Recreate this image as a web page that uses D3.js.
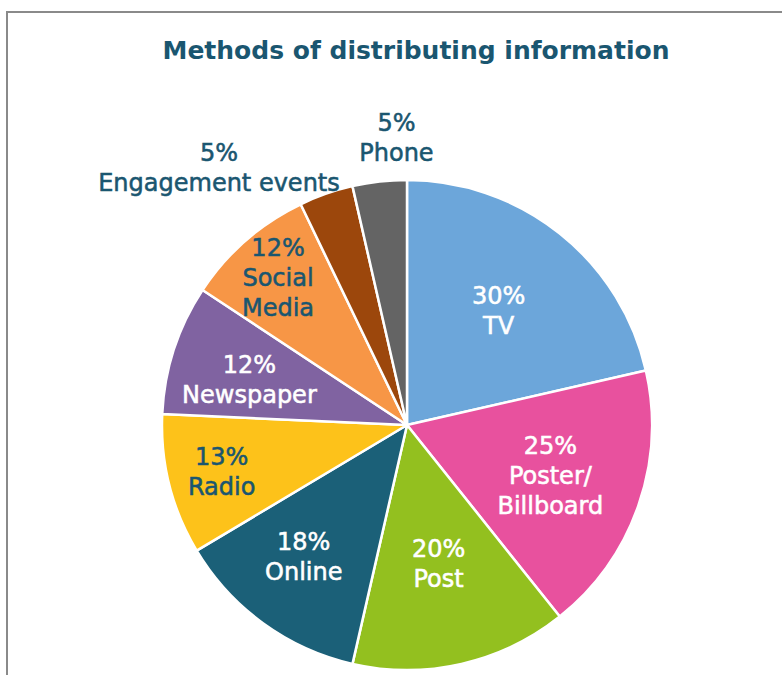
<!DOCTYPE html>
<html>
<head>
<meta charset="utf-8">
<script src="https://cdn.jsdelivr.net/npm/d3@7"></script>
<style>
  html, body { margin: 0; padding: 0; background: #ffffff; }
  svg { display: block; }
  text { font-family: "DejaVu Sans", "Noto Sans", sans-serif; }
</style>
</head>
<body>
<div id="chart"></div>
<script>
// ---- data ----
const title = "Methods of distributing information";
const categories = ["TV", "Poster/\nBillboard", "Post", "Online", "Radio", "Newspaper", "Social\nMedia", "Engagement events", "Phone"];
const values = [30, 25, 20, 18, 13, 12, 12, 5, 5];
const colors = ["#6CA6DA", "#E8519E", "#93C01F", "#1B6078", "#FDC21A", "#8063A1", "#F79646", "#9C470C", "#646464"];

// ---- layout ----
const W = 782, H = 675;
const cx = 407, cy = 425, R = 245;
const teal = "#1A5670";

const svg = d3.select("#chart").append("svg").attr("width", W).attr("height", H);

// frame
svg.append("rect").attr("x", 7).attr("y", 12).attr("width", 800).attr("height", 700)
  .attr("fill", "#ffffff").attr("stroke", "#8a8a8a").attr("stroke-width", 2);

svg.append("text").attr("x", 416).attr("y", 59).attr("text-anchor", "middle")
  .attr("font-size", 25).attr("font-weight", "bold").attr("fill", teal).text(title);

const data = categories.map((c, i) => ({ cat: c, value: values[i], color: colors[i] }));
const pie = d3.pie().value(d => d.value).sort(null);
const arcs = pie(data);
const arc = d3.arc().innerRadius(0).outerRadius(R);

const g = svg.append("g").attr("transform", `translate(${cx},${cy})`);
g.selectAll("path").data(arcs).enter().append("path")
  .attr("d", arc).attr("fill", d => d.data.color)
  .attr("stroke", "#ffffff").attr("stroke-width", 2.5).attr("stroke-linejoin", "round");

// label placement rules (radius fraction for inside labels)
const insideK = { "TV": 0.60, "Poster/\nBillboard": 0.62, "Post": 0.58, "Online": 0.68, "Radio": 0.78, "Newspaper": 0.67, "Social\nMedia": 0.80 };
const darkText = new Set(["Radio", "Social\nMedia", "Engagement events", "Phone"]);
const lineH = 30, fs = 24, capH = 17.5;

arcs.forEach(a => {
  const lines = [a.data.value + "%"].concat(a.data.cat.split("\n"));
  let mid = (a.startAngle + a.endAngle) / 2;
  if (a.data.cat === "Online") mid += 0.04;
  if (a.data.cat === "Newspaper") mid -= 0.03;
  const fill = darkText.has(a.data.cat) ? teal : "#ffffff";
  let x, firstBase, anchor = "middle";
  if (insideK[a.data.cat] !== undefined) {
    const r = R * insideK[a.data.cat];
    x = cx + r * Math.sin(mid);
    const y = cy - r * Math.cos(mid);
    firstBase = y - (lines.length - 1) * lineH / 2 + capH / 2;
  } else {
    const r = R + 10;
    const px = cx + r * Math.sin(mid), py = cy - r * Math.cos(mid);
    if (a.data.cat === "Phone") {
      x = px + 18;
      firstBase = (py - 11) - (lines.length - 1) * lineH;
    } else {
      // block's right edge sits next to the slice
      x = px + 17;
      firstBase = (py + 7) - (lines.length - 1) * lineH;
      anchor = "end";
    }
  }
  const t = svg.append("text").attr("font-size", fs).attr("fill", fill)
    .attr("stroke", fill).attr("stroke-width", 0.55).attr("text-anchor", "middle");
  lines.forEach((ln, i) => {
    t.append("tspan").attr("x", x).attr("y", firstBase + i * lineH).text(ln);
  });
  if (anchor === "end") {
    const widths = t.selectAll("tspan").nodes().map(n => n.getComputedTextLength());
    const maxW = d3.max(widths);
    t.selectAll("tspan").attr("x", x - maxW / 2);
  }
});
</script>
</body>
</html>
